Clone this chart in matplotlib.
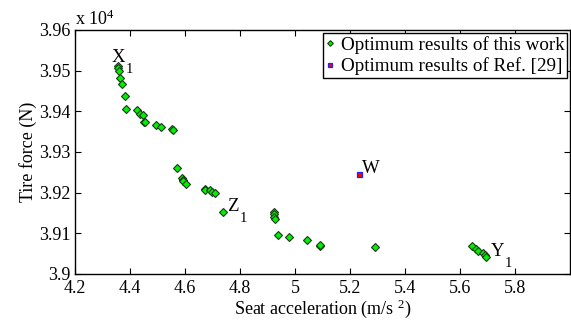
import matplotlib
matplotlib.use("Agg")
import matplotlib.pyplot as plt
from matplotlib.ticker import FixedLocator, FuncFormatter

plt.rcParams['font.family'] = ['Liberation Serif', 'DejaVu Serif']
plt.rcParams['mathtext.fontset'] = 'custom'
plt.rcParams['mathtext.rm'] = 'Liberation Serif'
plt.rcParams['mathtext.it'] = 'Liberation Serif:italic'

# Optimum results of this work (seat acceleration m/s^2, tire force N)
acc = [4.356, 4.358, 4.361, 4.364, 4.371, 4.380, 4.385, 4.426, 4.436, 4.446,
       4.450, 4.456, 4.496, 4.513, 4.554, 4.557, 4.571, 4.588, 4.592, 4.594,
       4.602, 4.671, 4.674, 4.691, 4.698, 4.708, 4.737, 4.922, 4.922, 4.922,
       4.927, 4.937, 4.978, 5.045, 5.091, 5.091, 5.291, 5.645, 5.659, 5.667,
       5.684, 5.690, 5.696]
force = [39511, 39506, 39499, 39481, 39468, 39438, 39406, 39403, 39393, 39391,
         39375, 39373, 39366, 39362, 39356, 39354, 39260, 39235, 39231, 39228,
         39222, 39208, 39206, 39206, 39202, 39199, 39153, 39153, 39147, 39141,
         39135, 39097, 39092, 39083, 39069, 39071, 39067, 39068, 39062, 39056,
         39051, 39047, 39043]

# Optimum results of Ref. [29]
ref_acc = [5.234]
ref_force = [39246]

# point labels (letter + subscript)
label_names = ['X', 'Z', 'Y', 'W']
label_subs = ['1', '1', '1', '']
label_x = [4.334, 4.754, 5.713, 5.2425]
label_y = [39521, 39155, 39044, 39249]

xticks = [4.2, 4.4, 4.6, 4.8, 5.0, 5.2, 5.4, 5.6, 5.8]
xticklabels = ['4.2', '4.4', '4.6', '4.8', '5', '5.2', '5.4', '5.6', '5.8']
yticks = [39000, 39100, 39200, 39300, 39400, 39500, 39600]

fig = plt.figure(figsize=(5.71, 3.2), dpi=100)
ax = fig.add_axes([75/571, 46/320, 495/571, 244/320])

ax.plot(acc, force, linestyle='none', marker='D', markersize=3.6,
        markerfacecolor='#00f000', markeredgecolor='#1a3a1a', markeredgewidth=0.8,
        label='Optimum results of this work')
ax.plot(ref_acc, ref_force, linestyle='none', marker='s', markersize=3.6,
        markerfacecolor='#ff0000', markeredgecolor='#2020ff', markeredgewidth=0.9,
        label='Optimum results of Ref. [29]')

for name, sub, lx, ly in zip(label_names, label_subs, label_x, label_y):
    t = ax.text(lx, ly, name, fontsize=13.5, va='baseline', ha='left')
    if sub:
        ax.annotate(sub, xy=(1, 0), xycoords=t, xytext=(0.3, -5.0),
                    textcoords='offset points', fontsize=10.5,
                    ha='left', va='baseline')

ax.set_xlim(4.2, 6.0)
ax.set_ylim(39000, 39600)
ax.xaxis.set_major_locator(FixedLocator(xticks))
ax.set_xticklabels(xticklabels)
ax.yaxis.set_major_locator(FixedLocator(yticks))
ax.yaxis.set_major_formatter(FuncFormatter(lambda v, p: '%g' % (v / 1e4)))

ax.tick_params(direction='in', length=4, width=0.8, top=True, right=True,
               labelsize=13, pad=3)
ax.tick_params(axis='x', pad=4)
for s in ax.spines.values():
    s.set_linewidth(1.0)

ax.set_xlabel('Seat acceleration (m/s $^{2}$)', fontsize=13, labelpad=1)
ax.set_ylabel('Tire force (N)', fontsize=13, labelpad=2)

ax.text(0.0, 1.005, 'x 10$^{4}$', transform=ax.transAxes, fontsize=13,
        ha='left', va='bottom')

leg = ax.legend(loc='upper right', fontsize=13.7, frameon=True, fancybox=False,
                edgecolor='black', framealpha=1, borderpad=0.15,
                handlelength=0.5, handletextpad=0.3, labelspacing=0.2,
                borderaxespad=0.15, markerscale=0.8)
leg.get_frame().set_linewidth(1.0)

fig.savefig('out.png', dpi=100)
